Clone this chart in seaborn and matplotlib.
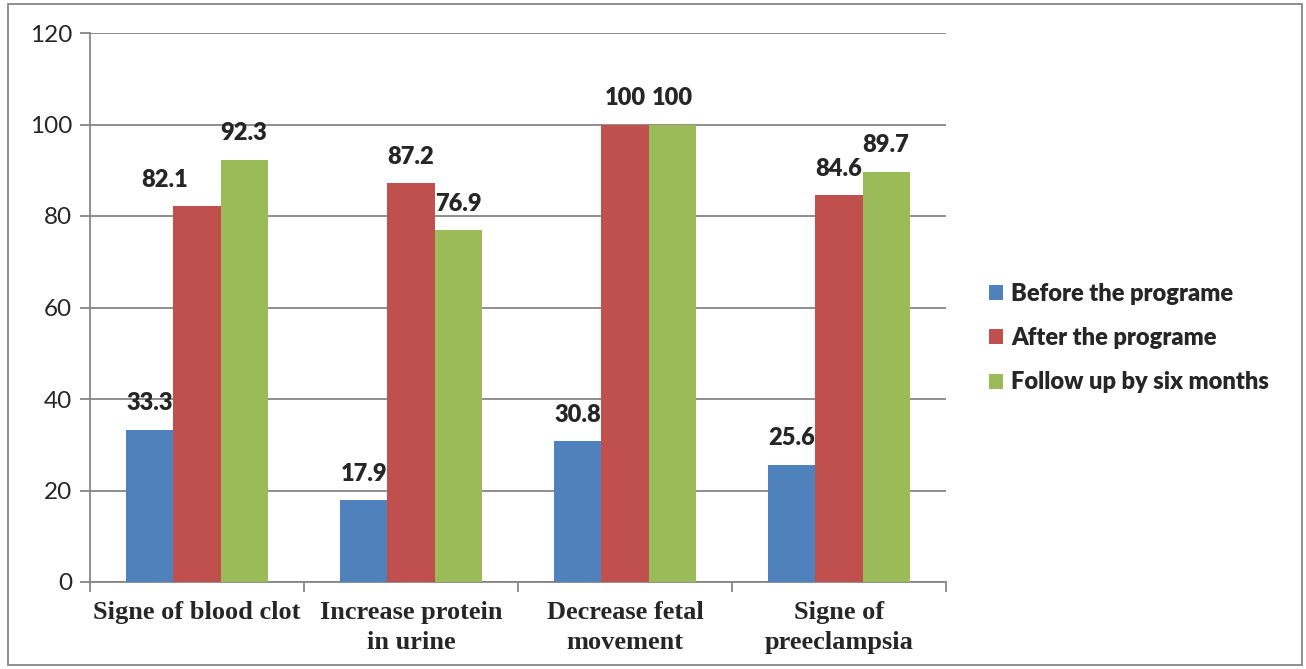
import pandas as pd
import seaborn as sns
import matplotlib.pyplot as plt
from matplotlib.patches import Rectangle, Patch

categories = ["Signe of blood clot", "Increase protein\nin urine",
              "Decrease fetal\nmovement", "Signe of\npreeclampsia"]
series = ["Before the programe", "After the programe", "Follow up by six months"]
before = [33.3, 17.9, 30.8, 25.6]
after = [82.1, 87.2, 100, 84.6]
follow = [92.3, 76.9, 100, 89.7]
colors = ["#4F81BD", "#C0504D", "#9BBB59"]

df = pd.DataFrame({
    "category": categories * 3,
    "series": [series[0]] * 4 + [series[1]] * 4 + [series[2]] * 4,
    "value": before + after + follow,
})

sns.set_style("white")
plt.rcParams["font.family"] = ["Lato", "DejaVu Sans"]

fig = plt.figure(figsize=(13.06, 6.69), dpi=100)
ax = fig.add_axes([90 / 1306, 1 - 582 / 669, 856 / 1306, 549 / 669])

sns.barplot(data=df, x="category", y="value", hue="series", order=categories,
            hue_order=series, palette=colors, width=0.66, saturation=1,
            edgecolor="none", ax=ax, legend=False, zorder=3)

ax.set_xlim(-0.5, 3.5)
ax.set_ylim(0, 120)
ax.set_yticks(range(0, 121, 20))
ax.set_xlabel("")
ax.set_ylabel("")
ax.yaxis.grid(True, color="#868686", lw=1.3, zorder=0)
ax.set_axisbelow(True)
for s in ["top", "right"]:
    ax.spines[s].set_visible(False)
for s in ["left", "bottom"]:
    ax.spines[s].set_color("#868686")
    ax.spines[s].set_linewidth(1.3)

ax.tick_params(axis="y", direction="out", length=7, width=1.3, color="#868686",
               labelsize=17.5, pad=6, left=True)
ax.set_xticks([-0.5, 0.5, 1.5, 2.5, 3.5], minor=True)
ax.tick_params(axis="x", which="minor", direction="out", length=7, width=1.3,
               color="#868686", bottom=True)
ax.tick_params(axis="x", which="major", length=0, pad=14)
for lab in ax.get_xticklabels():
    lab.set_fontfamily("Liberation Serif")
    lab.set_fontweight("bold")
    lab.set_fontsize(19)
    lab.set_linespacing(1.35)

# data labels
for i, cont in enumerate(ax.containers):
    for j, bar in enumerate(cont):
        h = bar.get_height()
        dx = -23 if (i == 1 and j == 0) else 0
        txt = f"{h:g}"
        ax.annotate(txt, (bar.get_x() + bar.get_width() / 2, h),
                    xytext=(dx, 19), textcoords="offset points",
                    ha="center", va="center", fontsize=17, fontweight="heavy")

handles = [Patch(facecolor=c, edgecolor="none") for c in colors]
fig.legend(handles, series, loc="center left",
           bbox_to_anchor=(989 / 1306, 1 - 338 / 669), frameon=False,
           prop={"family": "Lato", "weight": "heavy", "size": 17},
           handlelength=0.6, handleheight=0.6, handletextpad=0.35,
           labelspacing=0.95, borderpad=0, borderaxespad=0)

fig.patches.append(Rectangle((8 / 1306, 4 / 669), 1294 / 1306, 661 / 669,
                             transform=fig.transFigure, fill=False,
                             edgecolor="#868686", lw=1.3))

fig.savefig("out.png", dpi=100)
